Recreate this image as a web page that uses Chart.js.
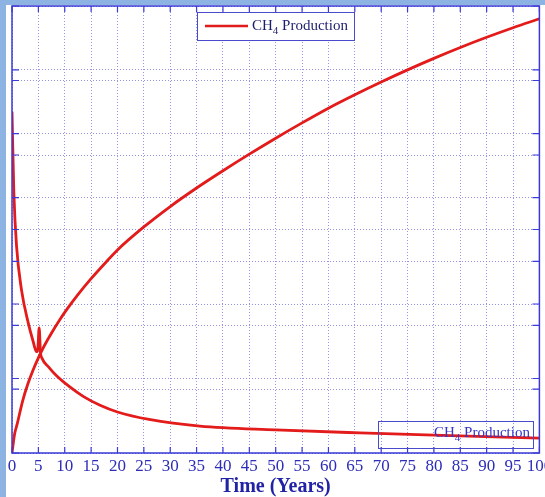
<!DOCTYPE html>
<html>
<head>
<meta charset="utf-8">
<script src="https://cdn.jsdelivr.net/npm/chart.js@4.4.1/dist/chart.umd.min.js"></script>
<style>
  html, body { margin: 0; padding: 0; overflow: hidden; background: #8db3e2; width: 545px; height: 497px; }
  #wrap { position: absolute; left: 6px; top: 5px; width: 570px; height: 492px; background: #fff; }
</style>
</head>
<body>
<div id="wrap"><canvas id="grafico"></canvas></div>
<script>
// ejes x (años) y valores
const tiempos = [0, 5, 10, 15, 20, 25, 30, 35, 40, 45, 50, 55, 60, 65, 70, 75, 80, 85, 90, 95, 100];

// curva creciente (eje izquierdo, 7 divisiones)
const tSubida = [0, 0.5, 1, 2, 3, 4, 5, 6, 7.5, 9, 10.5, 12.5, 15, 17.5, 20, 25, 30, 35, 40, 45, 50, 55, 60, 65, 70, 75, 80, 85, 90, 95, 100];
const vSubida = [0, 0.30, 0.46, 0.81, 1.08, 1.30, 1.49, 1.66, 1.88, 2.08, 2.26, 2.48, 2.73, 2.96, 3.18, 3.54, 3.86, 4.15, 4.42, 4.68, 4.93, 5.17, 5.40, 5.61, 5.81, 6.00, 6.18, 6.35, 6.51, 6.66, 6.80];

// curva decreciente (eje derecho, 6 divisiones)
const tBajada = [0, 0.35, 0.87, 1.8, 3.1, 4.0, 4.65, 4.9, 5.15, 5.4, 5.7, 7, 8.4, 10.9, 13.5, 16.7, 20, 26, 35.6, 50, 66, 80, 100];
const vBajada = [4.58, 3.50, 2.77, 2.19, 1.74, 1.50, 1.36, 1.40, 1.68, 1.35, 1.27, 1.15, 1.04, 0.89, 0.76, 0.64, 0.55, 0.45, 0.36, 0.31, 0.27, 0.24, 0.20];

const etiqueta = "CH4 Production";

const puntos = (xs, ys) => xs.map((x, i) => ({ x: x, y: ys[i] }));

const azul = '#2d2db8';
const gridColor = 'rgba(120,120,225,0.8)';

// marco, marcas interiores y leyendas
const marco = {
  id: 'marco',
  afterDatasetsDraw(chart) {
    const c = chart.ctx;
    const a = chart.chartArea;
    const sx = chart.scales.x, sy = chart.scales.y, sy2 = chart.scales.y2;
    c.save();
    c.strokeStyle = '#3a3ad6';
    c.lineWidth = 1.5;
    c.strokeRect(a.left, a.top, a.right - a.left, a.bottom - a.top);
    c.lineWidth = 1.2;
    c.beginPath();
    tiempos.forEach(t => {
      const px = sx.getPixelForValue(t);
      c.moveTo(px, a.bottom); c.lineTo(px, a.bottom - 6);
      c.moveTo(px, a.top); c.lineTo(px, a.top + 6);
    });
    [sy, sy2].forEach(s => {
      s.ticks.forEach(tk => {
        const py = s.getPixelForValue(tk.value);
        c.moveTo(a.left, py); c.lineTo(a.left + 7, py);
        c.moveTo(a.right, py); c.lineTo(a.right - 7, py);
      });
    });
    c.stroke();

    // leyenda superior
    c.fillStyle = '#ffffff';
    c.fillRect(191, 7, 157, 28);
    c.strokeStyle = '#4a4acc';
    c.lineWidth = 1;
    c.strokeRect(191.5, 7.5, 157, 28);
    c.strokeStyle = '#e01b1b';
    c.lineWidth = 2.5;
    c.beginPath(); c.moveTo(199, 21); c.lineTo(242, 21); c.stroke();
    dibujaTexto(c, 246, 25, '#1c1c6e');

    // leyenda inferior (sin relleno)
    c.strokeStyle = '#4a4acc';
    c.lineWidth = 1;
    c.strokeRect(372.5, 416.5, 155, 27);
    dibujaTexto(c, 428, 432, '#3434c8');
    c.restore();
  }
};

function dibujaTexto(c, x, y, color) {
  c.fillStyle = color;
  c.textBaseline = 'alphabetic';
  c.font = '15px "Liberation Serif"';
  c.fillText('CH', x, y);
  let w = c.measureText('CH').width;
  c.font = '11px "Liberation Serif"';
  c.fillText('4', x + w, y + 4);
  w += c.measureText('4').width;
  c.font = '15px "Liberation Serif"';
  c.fillText(' Production', x + w, y);
}

const ctx = document.getElementById('grafico').getContext('2d');
const grafico = new Chart(ctx, {
  type: 'line',
  data: {
    datasets: [
      {
        label: etiqueta,
        data: puntos(tSubida, vSubida),
        yAxisID: 'y',
        borderColor: '#e31b1b',
        borderWidth: 2.8,
        pointRadius: 0,
        cubicInterpolationMode: 'monotone',
        fill: false,
      },
      {
        label: etiqueta,
        data: puntos(tBajada, vBajada),
        yAxisID: 'y2',
        borderColor: '#e31b1b',
        borderWidth: 2.8,
        pointRadius: 0,
        cubicInterpolationMode: 'monotone',
        fill: false,
      },
    ],
  },
  plugins: [marco],
  options: {
    responsive: true,
    maintainAspectRatio: false,
    animation: false,
    layout: { padding: { left: 6, top: 1, right: 36.6, bottom: 0 } },
    plugins: { legend: { display: false }, tooltip: { enabled: false } },
    scales: {
      x: {
        type: 'linear',
        min: 0,
        max: 100,
        afterBuildTicks: (s) => { s.ticks = tiempos.map(v => ({ value: v })); },
        afterFit: (s) => { s.paddingLeft = 0; s.paddingRight = 0; s.height = 44; },
        ticks: {
          autoSkip: false,
          maxRotation: 0,
          padding: 3,
          color: azul,
          font: { family: 'Liberation Serif', size: 17 },
        },
        grid: { color: gridColor, borderDash: [1, 2], drawTicks: false },
        border: { display: false, dash: [1, 2] },
        title: {
          display: true,
          text: 'Time (Years)',
          color: '#2222a6',
          padding: { top: 0, bottom: 0 },
          font: { family: 'Liberation Serif', size: 20, weight: 'bold', lineHeight: 1.0 },
        },
      },
      y: {
        position: 'left',
        min: 0,
        max: 7,
        ticks: { display: false, stepSize: 1 },
        afterFit: (s) => { s.width = 0; },
        grid: { color: gridColor, drawTicks: false },
        border: { display: false, dash: [1, 2] },
      },
      y2: {
        position: 'left',
        min: 0,
        max: 6,
        ticks: { display: false, stepSize: 1 },
        afterFit: (s) => { s.width = 0; },
        grid: { color: gridColor, drawTicks: false },
        border: { display: false, dash: [1, 2] },
      },
    },
  },
});
</script>
</body>
</html>
